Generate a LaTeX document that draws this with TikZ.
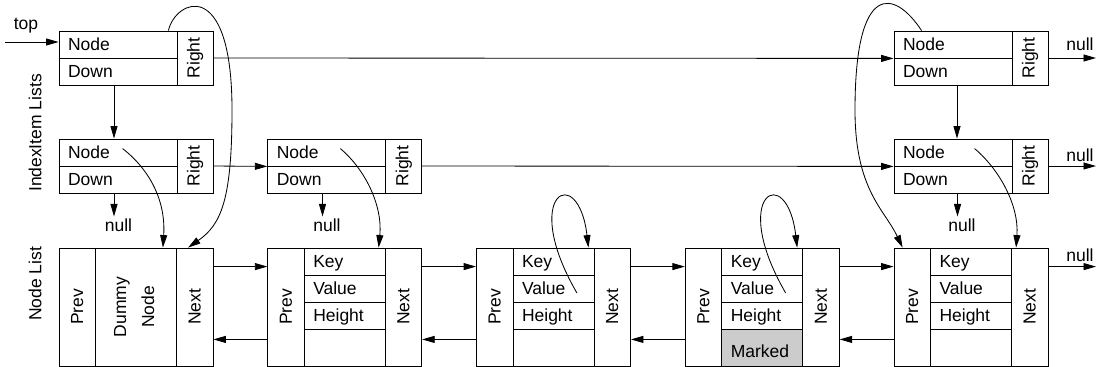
\documentclass[tikz,border=0pt]{standalone}
\usepackage{fontspec}
\setmainfont{Liberation Sans}
\usetikzlibrary{arrows.meta}

\begin{document}
\begin{tikzpicture}[
  x=0.6pt, y=-0.6pt, line width=0.5pt,
  font=\fontsize{10.5}{12.6}\selectfont,
  ptr/.style={draw, text width=60pt, align=left, inner xsep=5.4pt, inner ysep=0pt, minimum height=16.2pt, text height=7.5pt, text depth=0pt},
  fld/.style={ptr, text width=37.8pt},
  rgt/.style={draw, inner sep=0pt, minimum width=21.6pt, minimum height=32.4pt},
  side/.style={draw, inner sep=0pt, minimum width=21.9pt, minimum height=70.8pt},
  nul/.style={inner sep=1pt},
  arr/.style={-{Triangle[length=7.5pt,width=4.2pt]}}
]
  \useasboundingbox (0,0) rectangle (1097,367);

  \node (toplbl) at (26,26) {top};
  \coordinate (topin) at (5,42);
  \coordinate (rend) at (1096,0);
  \node[rotate=90] (idxlbl) at (35,133) {IndexItem Lists};
  \node[rotate=90] (nodelbl) at (35,284) {Node List};

  \node[ptr] (up1n) at (118,44.5) {Node};
  \node[ptr] (up1d) at (118,71.5) {Down};
  \node[rgt] (up1r) at (195,58) {\rotatebox{90}{Right}};
  \node[ptr] (up2n) at (953,44.5) {Node};
  \node[ptr] (up2d) at (953,71.5) {Down};
  \node[rgt] (up2r) at (1030,58) {\rotatebox{90}{Right}};

  \node[ptr] (lo1n) at (118,152.5) {Node};
  \node[ptr] (lo1d) at (118,179.5) {Down};
  \node[rgt] (lo1r) at (195,166) {\rotatebox{90}{Right}};
  \node[ptr] (lo2n) at (326.75,152.5) {Node};
  \node[ptr] (lo2d) at (326.75,179.5) {Down};
  \node[rgt] (lo2r) at (403.75,166) {\rotatebox{90}{Right}};
  \node[ptr] (lo3n) at (953,152.5) {Node};
  \node[ptr] (lo3d) at (953,179.5) {Down};
  \node[rgt] (lo3r) at (1030,166) {\rotatebox{90}{Right}};

  \node[nul] (null1) at (118.5,225) {null};
  \node[nul] (null2) at (327,225) {null};
  \node[nul] (null3) at (962,225) {null};
  \node[nul] (null4) at (1080,44) {null};
  \node[nul] (null5) at (1080,155) {null};
  \node[nul] (null6) at (1080,255) {null};

  \node[side] (nl1p) at (77.25,307) {\rotatebox{90}{Prev}};
  \node[side, minimum width=48.6pt] (nl1m) at (136,307) {\rotatebox{90}{\begin{tabular}{@{}c@{}}Dummy\\[4.2pt]Node\end{tabular}}};
  \node[side] (nl1x) at (194.75,307) {\rotatebox{90}{Next}};

  \node[side] (nl2p) at (286,307) {\rotatebox{90}{Prev}};
  \node[fld] (nl2k) at (344.75,261.5) {Key};
  \node[fld] (nl2v) at (344.75,288.5) {Value};
  \node[fld] (nl2h) at (344.75,315.5) {Height};
  \node[fld, minimum height=22.2pt] (nl2e) at (344.75,347.5) {};
  \node[side] (nl2x) at (403.5,307) {\rotatebox{90}{Next}};

  \node[side] (nl3p) at (494.75,307) {\rotatebox{90}{Prev}};
  \node[fld] (nl3k) at (553.5,261.5) {Key};
  \node[fld] (nl3v) at (553.5,288.5) {Value};
  \node[fld] (nl3h) at (553.5,315.5) {Height};
  \node[fld, minimum height=22.2pt] (nl3e) at (553.5,347.5) {};
  \node[side] (nl3x) at (612.25,307) {\rotatebox{90}{Next}};

  \node[side] (nl4p) at (703.5,307) {\rotatebox{90}{Prev}};
  \node[fld] (nl4k) at (762.25,261.5) {Key};
  \node[fld] (nl4v) at (762.25,288.5) {Value};
  \node[fld] (nl4h) at (762.25,315.5) {Height};
  \node[fld, minimum height=22.2pt, text height=12.3pt, fill=gray!40] (nl4e) at (762.25,347.5) {Marked};
  \node[side] (nl4x) at (821,307) {\rotatebox{90}{Next}};

  \node[side] (nl5p) at (912.25,307) {\rotatebox{90}{Prev}};
  \node[fld] (nl5k) at (971,261.5) {Key};
  \node[fld] (nl5v) at (971,288.5) {Value};
  \node[fld] (nl5h) at (971,315.5) {Height};
  \node[fld, minimum height=22.2pt] (nl5e) at (971,347.5) {};
  \node[side] (nl5x) at (1029.75,307) {\rotatebox{90}{Next}};

  \draw[arr] (topin) -- (topin -| up1n.west);
  \draw[arr] (up1r.east) -- (up2n.south west);
  \draw[arr] (up2r.east) -- (up2r.east -| rend);
  \draw[arr] ([xshift=-2.4pt]up1d.south) -- ([xshift=-2.4pt]lo1n.north);
  \draw[arr] ([xshift=2.4pt]up2d.south) -- ([xshift=2.4pt]lo3n.north);

  \draw[arr] (lo1r.east) -- (lo2n.south west);
  \draw[arr] (lo2r.east) -- (lo3n.south west);
  \draw[arr] (lo3r.east) -- (lo3r.east -| rend);
  \draw[arr] ([xshift=-2.7pt]null1.north |- lo1d.south) -- ([xshift=-2.7pt]null1.north);
  \draw[arr] ([xshift=-2.7pt]null2.north |- lo2d.south) -- ([xshift=-2.7pt]null2.north);
  \draw[arr] ([xshift=-2.7pt]null3.north |- lo3d.south) -- ([xshift=-2.7pt]null3.north);

  \draw[arr] ([yshift=-11.4pt]nl1x.north east) -- ([yshift=-11.4pt]nl2p.north west);
  \draw[arr] ([yshift=-11.4pt]nl2x.north east) -- ([yshift=-11.4pt]nl3p.north west);
  \draw[arr] ([yshift=-11.4pt]nl3x.north east) -- ([yshift=-11.4pt]nl4p.north west);
  \draw[arr] ([yshift=-11.4pt]nl4x.north east) -- ([yshift=-11.4pt]nl5p.north west);
  \draw[arr] ([yshift=-11.4pt]nl5x.north east) -- ([yshift=-11.4pt]nl5x.north east -| rend);
  \draw[arr] ([yshift=16.2pt]nl2p.south west) -- ([yshift=16.2pt]nl1x.south east);
  \draw[arr] ([yshift=16.2pt]nl3p.south west) -- ([yshift=16.2pt]nl2x.south east);
  \draw[arr] ([yshift=16.2pt]nl4p.south west) -- ([yshift=16.2pt]nl3x.south east);
  \draw[arr] ([yshift=16.2pt]nl5p.south west) -- ([yshift=16.2pt]nl4x.south east);

  \draw[arr] ([xshift=-5.4pt]up1n.north east) .. controls +(7,-31) and +(0,-135) .. (232,110) .. controls +(0,90) and +(33,-23) .. ([xshift=7.2pt]nl1x.north west);
  \draw[arr] ([xshift=16.8pt]up2n.north west) .. controls +(-27,-41) and +(0,-130) .. (855,110) .. controls +(0,80) and +(-18,-38) .. ([xshift=5.4pt]nl5p.north west);
  \draw[arr] ([shift={(38.4pt,-6pt)}]lo1n.north west) .. controls +(27,21) and +(3,-47) .. ([xshift=-8.4pt]nl1m.north east);
  \draw[arr] ([shift={(43.8pt,-6pt)}]lo2n.north west) .. controls +(25,21) and +(4,-42) .. ([xshift=-4.2pt]nl2k.north east);
  \draw[arr] ([shift={(48.6pt,-6pt)}]lo3n.north west) .. controls +(25,21) and +(3,-42) .. ([xshift=3pt]nl5x.north west);
  \draw[arr] ([shift={(-10.5pt,-2.7pt)}]nl3v.east) .. controls +(-58,-100) and +(-10,-86) .. ([xshift=-3.6pt]nl3k.north east);
  \draw[arr] ([shift={(-10.5pt,-2.7pt)}]nl4v.east) .. controls +(-58,-100) and +(-10,-86) .. ([xshift=-3.6pt]nl4k.north east);
\end{tikzpicture}
\end{document}
